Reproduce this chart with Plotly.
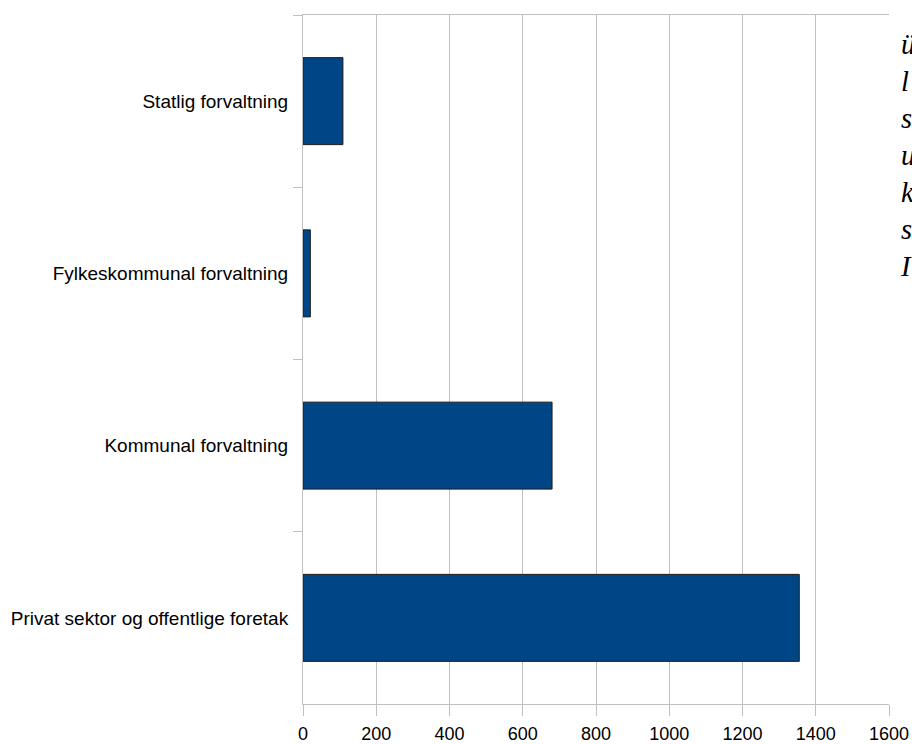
import plotly.graph_objects as go

categories = ["Statlig forvaltning", "Fylkeskommunal forvaltning",
              "Kommunal forvaltning", "Privat sektor og offentlige foretak"]
values = [109, 20, 680, 1355]
x_ticks = [0, 200, 400, 600, 800, 1000, 1200, 1400, 1600]
side_letters = ["ü", "l", "s", "u", "k", "s", "I"]

W, H = 912, 744
ml, mr, mt, mb = 303, 23, 15, 40

fig = go.Figure()
fig.add_trace(go.Bar(
    x=values, y=categories, orientation="h",
    marker=dict(color="#004586", line=dict(color="#1a1a1a", width=1)),
    width=0.505,
))

grid = "#c0c0c0"
fig.update_layout(
    width=W, height=H,
    margin=dict(l=ml, r=mr, t=mt, b=mb, pad=0, autoexpand=False),
    paper_bgcolor="white", plot_bgcolor="white",
    font=dict(family="Liberation Sans, Arial, sans-serif", size=18, color="#000000"),
    showlegend=False,
    xaxis=dict(
        range=[0, 1600], tickvals=x_ticks, ticktext=[str(v) for v in x_ticks],
        showgrid=True, gridcolor=grid, gridwidth=1,
        showline=True, linecolor=grid, linewidth=1, mirror=True,
        ticks="outside", ticklen=11, tickcolor=grid, tickwidth=1,
        zeroline=False, ticklabelstandoff=2, automargin=False,
        tickfont=dict(size=18),
    ),
    yaxis=dict(
        autorange="reversed", type="category",
        showgrid=False, showline=True, linecolor=grid, linewidth=1,
        ticks="outside", ticklen=9, tickcolor=grid, tickwidth=1,
        tickson="boundaries", zeroline=False, automargin=False,
        ticklabelstandoff=10, tickfont=dict(size=19),
    ),
)

pw = W - ml - mr
ph = H - mt - mb
fig.add_annotation(
    xref="paper", yref="paper",
    x=(898 - ml) / pw, y=1 - (27 - mt) / ph,
    xanchor="left", yanchor="top", align="left",
    text="<br>".join(side_letters), showarrow=False,
    font=dict(family="Liberation Serif, Times New Roman, serif", size=28.5, color="#000000", style="italic"),
)

fig.write_html(
    "out.html",
    config={"displayModeBar": False},
    post_script="document.body.style.margin='0';document.body.style.overflow='hidden';",
)
